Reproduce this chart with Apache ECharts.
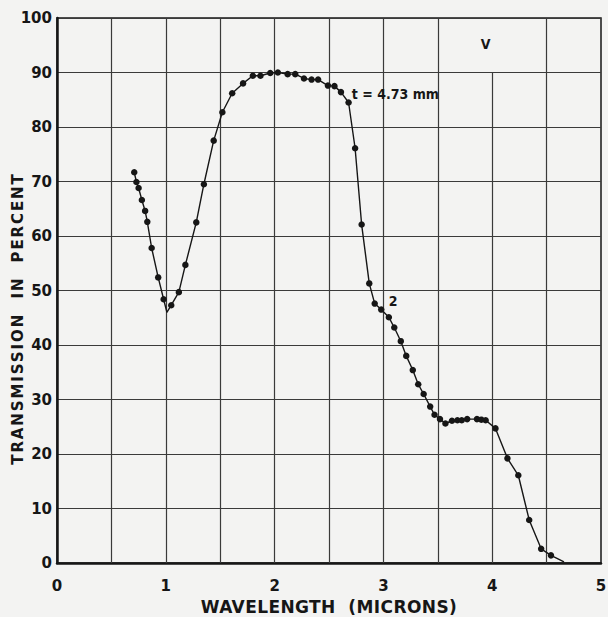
<!DOCTYPE html>
<html>
<head>
<meta charset="utf-8">
<script src="https://cdn.jsdelivr.net/npm/echarts@6/dist/echarts.min.js"></script>
<style>
  html, body { margin: 0; padding: 0; background: #f3f3f2; }
  #chart { width: 608px; height: 617px; }
</style>
</head>
<body>
<div id="chart"></div>
<script>
// wavelength (microns) and transmission (%)
const wavelength = [0.71, 0.73, 0.75, 0.78, 0.81, 0.83, 0.87, 0.93, 0.98, 1.01,
  1.05, 1.12, 1.18, 1.28, 1.35, 1.44, 1.52, 1.61, 1.71, 1.80,
  1.87, 1.96, 2.03, 2.12, 2.19, 2.27, 2.34, 2.40, 2.49, 2.55,
  2.61, 2.68, 2.74, 2.80, 2.87, 2.92, 2.98, 3.05, 3.10, 3.16,
  3.21, 3.27, 3.32, 3.37, 3.43, 3.47, 3.52, 3.57, 3.63, 3.68,
  3.72, 3.77, 3.86, 3.90, 3.94, 4.03, 4.14, 4.24, 4.34, 4.45,
  4.54, 4.66]
const transmission = [71.7, 69.9, 68.8, 66.6, 64.6, 62.6, 57.8, 52.4, 48.4, 46.0,
  47.3, 49.7, 54.7, 62.5, 69.5, 77.5, 82.7, 86.2, 88.0, 89.4,
  89.4, 89.9, 90.0, 89.7, 89.7, 88.9, 88.7, 88.7, 87.6, 87.5,
  86.4, 84.5, 76.1, 62.1, 51.3, 47.6, 46.5, 45.1, 43.2, 40.7,
  38.0, 35.4, 32.8, 31.0, 28.7, 27.2, 26.4, 25.6, 26.1, 26.2,
  26.2, 26.4, 26.4, 26.3, 26.2, 24.7, 19.2, 16.1, 7.9, 2.6,
  1.4, 0.2]
// points on the line that carry no dot (the bend at the minimum, the tail end)
const bareIdx = [9, 61]

const xTicks = [0, 1, 2, 3, 4, 5]
const yTicks = [0, 10, 20, 30, 40, 50, 60, 70, 80, 90, 100]
// vertical rulings every half micron; the 4 micron line stops at 90 (gap for the "V")
const vGridX = [0.5, 1, 1.5, 2, 2.5, 3, 3.5, 4, 4.5]
const vGridTop = [100, 100, 100, 100, 100, 100, 100, 90, 100]

const xName = 'WAVELENGTH  (MICRONS)'
const yName = 'TRANSMISSION  IN  PERCENT'

const notes = [
  { x: 3.94, y: 95.2, text: 'V', align: 'center' },
  { x: 2.71, y: 86.0, text: 't = 4.73 mm', align: 'left' },
  { x: 3.09, y: 48.1, text: '2', align: 'center' }
]

const ink = '#161616'
const font = 'DejaVu Sans'

const myChart = echarts.init(document.getElementById('chart'), null, { renderer: 'svg' })
const option = {
  backgroundColor: '#f3f3f2',
  animation: false,
  grid: {
    left: 57,
    right: 7,
    top: 18,
    bottom: 54,
    containLabel: false,
    outerBoundsMode: 'none',
    show: true,
    borderColor: ink,
    borderWidth: 1.5,
    backgroundColor: 'transparent'
  },
  xAxis: {
    type: 'value',
    min: 0,
    max: 5,
    interval: 1,
    name: xName,
    nameLocation: 'middle',
    nameGap: 35,
    nameMoveOverlap: false,
    nameTextStyle: { color: ink, fontFamily: font, fontSize: 17, fontWeight: 'bold' },
    axisLine: { show: true, lineStyle: { color: ink, width: 2.5 } },
    axisTick: { show: false },
    splitLine: { show: false },
    axisLabel: {
      color: ink, fontFamily: font, fontSize: 15, fontWeight: 'bold', margin: 15,
      formatter: v => xTicks.includes(v) ? String(v) : ''
    }
  },
  yAxis: {
    type: 'value',
    min: 0,
    max: 100,
    interval: 10,
    name: yName,
    nameLocation: 'middle',
    nameGap: 32,
    nameMoveOverlap: false,
    nameRotate: 90,
    nameTextStyle: { color: ink, fontFamily: font, fontSize: 15, fontWeight: 'bold', padding: [0, 56, 0, 0] },
    axisLine: { show: true, lineStyle: { color: ink, width: 2.5 } },
    axisTick: { show: false },
    splitLine: { show: true, lineStyle: { color: '#3a3a3a', width: 1.2 } },
    axisLabel: {
      color: ink, fontFamily: font, fontSize: 15, fontWeight: 'bold', margin: 5,
      formatter: v => yTicks.includes(v) ? String(v) : ''
    }
  },
  series: [
    {
      name: 'rulings',
      type: 'line',
      data: [],
      silent: true,
      markLine: {
        silent: true,
        symbol: 'none',
        label: { show: false },
        lineStyle: { color: '#3a3a3a', width: 1.2, type: 'solid' },
        data: vGridX.map((x, i) => [{ coord: [x, 0] }, { coord: [x, vGridTop[i]] }])
      }
    },
    {
      name: 't = 4.73 mm',
      type: 'line',
      data: wavelength.map((x, i) => [x, transmission[i]]),
      symbol: 'circle',
      symbolSize: (v, p) => bareIdx.includes(p.dataIndex) ? 0 : 6.5,
      showAllSymbol: true,
      lineStyle: { color: ink, width: 1.4 },
      itemStyle: { color: ink },
      z: 5
    },
    {
      name: 'notes',
      type: 'scatter',
      symbolSize: 0,
      silent: true,
      itemStyle: { color: ink, opacity: 1 },
      data: notes.map(n => ({ value: [n.x, n.y], name: n.text, label: { align: n.align } })),
      label: {
        show: true,
        position: 'inside',
        formatter: p => p.name,
        color: ink,
        opacity: 1,
        textBorderWidth: 0,
        fontFamily: 'DejaVu Sans Condensed',
        fontSize: 14,
        fontWeight: 'bold',
        verticalAlign: 'middle'
      },
      z: 6
    }
  ]
}
myChart.setOption(option)

// the axis titles are hand-lettered with wide spacing; zrender has no letter spacing,
// so stretch them in the svg output
function spaceTitles() {
  document.querySelectorAll('#chart text').forEach(t => {
    const s = t.textContent.trim()
    if (s === yName.trim()) t.style.letterSpacing = '1.9px'
    if (s === xName.trim()) t.style.letterSpacing = '0.4px'
  })
}
myChart.on('finished', spaceTitles)
spaceTitles()
</script>
</body>
</html>
